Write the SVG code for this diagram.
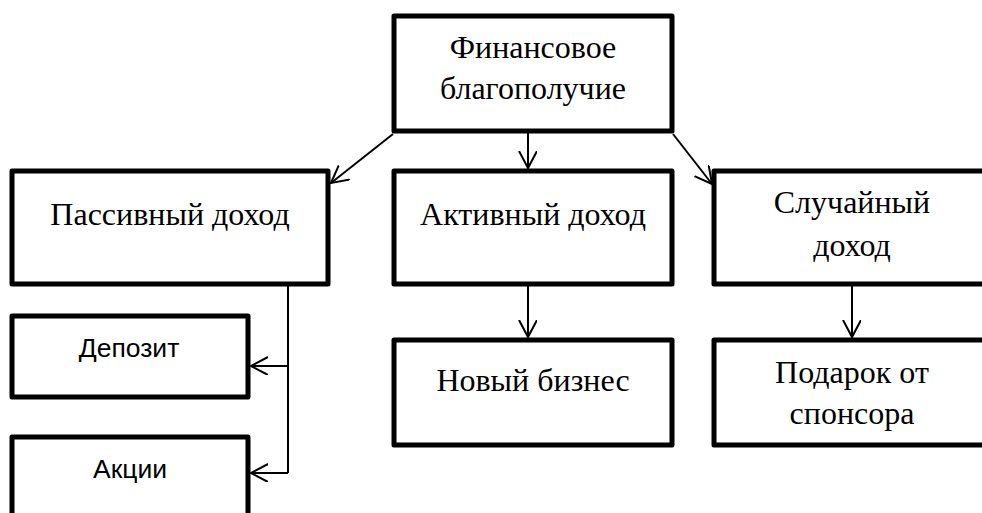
<svg xmlns="http://www.w3.org/2000/svg" width="982" height="513" viewBox="0 0 982 513">
<style>
.box{fill:#fff;stroke:#000;stroke-width:5;stroke-linejoin:round}
.t{font-family:"Liberation Serif","Times New Roman",serif;font-size:32px;fill:#000;text-anchor:middle}
.s{font-family:"Liberation Sans",Arial,sans-serif;font-size:26.5px;fill:#000;text-anchor:middle}
.c{fill:none;stroke:#000;stroke-width:2}
</style>
<defs>
<marker id="ah" markerWidth="20" markerHeight="20" refX="17" refY="9" orient="auto" markerUnits="userSpaceOnUse">
<path d="M0,0 L17,9 L0,18" fill="none" stroke="#000" stroke-width="2"/>
</marker>
</defs>
<rect width="982" height="513" fill="#fff"/>
<g id="connectors">
<line class="c" x1="528" y1="133" x2="528" y2="168" marker-end="url(#ah)"/>
<line class="c" x1="393" y1="134" x2="331" y2="183" marker-end="url(#ah)"/>
<line class="c" x1="673" y1="134" x2="712" y2="184" marker-end="url(#ah)"/>
<line class="c" x1="528" y1="286" x2="528" y2="337" marker-end="url(#ah)"/>
<line class="c" x1="852" y1="286" x2="852" y2="337" marker-end="url(#ah)"/>
<polyline class="c" points="288,286 288,473"/>
<line class="c" x1="288" y1="366" x2="251" y2="366" marker-end="url(#ah)"/>
<line class="c" x1="288" y1="473" x2="251" y2="473" marker-end="url(#ah)"/>
</g>
<g id="n-top">
<rect class="box" x="394" y="16" width="278" height="115"/>
<text class="t" x="533" y="58">Финансовое</text>
<text class="t" x="533" y="99">благополучие</text>
</g>
<g id="n-passive">
<rect class="box" x="12" y="171" width="316" height="113"/>
<text class="t" x="170" y="225">Пассивный доход</text>
</g>
<g id="n-active">
<rect class="box" x="394" y="171" width="278" height="113"/>
<text class="t" x="533" y="225">Активный доход</text>
</g>
<g id="n-random">
<rect class="box" x="714" y="171" width="300" height="113"/>
<text class="t" x="852" y="213">Случайный</text>
<text class="t" x="852" y="256">доход</text>
</g>
<g id="n-deposit">
<rect class="box" x="12" y="316" width="236" height="81"/>
<text class="s" x="129" y="357">Депозит</text>
</g>
<g id="n-stocks">
<rect class="box" x="12" y="437" width="236" height="100"/>
<text class="s" x="130" y="478">Акции</text>
</g>
<g id="n-business">
<rect class="box" x="394" y="340" width="278" height="105"/>
<text class="t" x="533" y="391">Новый бизнес</text>
</g>
<g id="n-gift">
<rect class="box" x="714" y="340" width="300" height="105"/>
<text class="t" x="852" y="383">Подарок от</text>
<text class="t" x="852" y="424">спонсора</text>
</g>
</svg>
